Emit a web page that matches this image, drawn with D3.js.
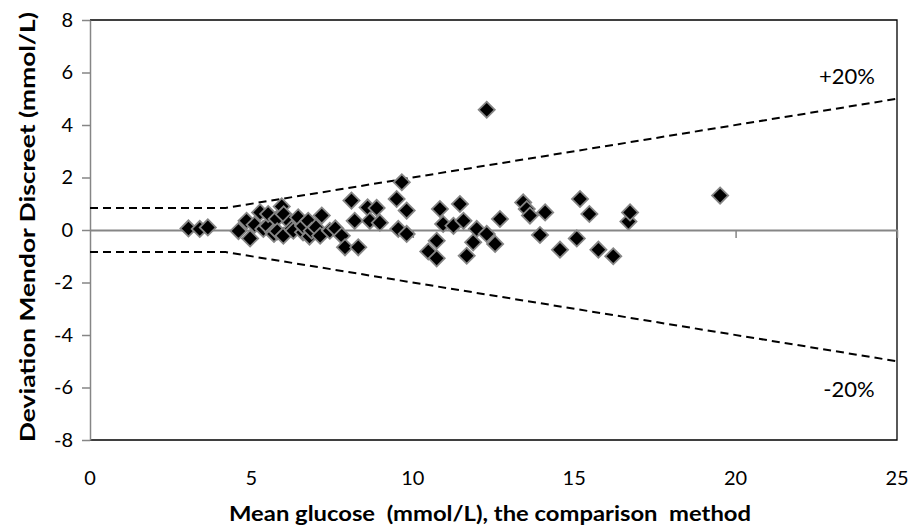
<!DOCTYPE html>
<html><head><meta charset="utf-8">
<script src="https://cdn.jsdelivr.net/npm/d3@7"></script>
<style>body{margin:0;background:#fff}svg{display:block}text{font-family:Lato,"Open Sans",sans-serif}</style>
</head><body><svg id="c" width="911" height="529"></svg>
<script>
// Mean glucose (mmol/L), comparison method
const meanGlucose = [3.05,3.4,3.65,4.6,4.85,4.96,5.1,5.27,5.37,5.5,5.52,5.68,5.7,5.78,5.8,5.94,5.99,6.0,6.2,6.25,6.3,6.45,6.6,6.6,6.76,6.8,6.87,7.0,7.13,7.18,7.43,7.6,7.8,7.9,8.1,8.2,8.31,8.6,8.67,8.88,8.98,
  9.5,9.66,9.81,9.55,9.81,10.48,10.74,10.74,10.84,10.94,11.26,11.46,11.57,11.67,11.87,11.98,12.29,12.29,12.55,12.7,13.42,13.53,13.63,13.94,14.1,14.56,15.08,15.18,15.47,15.75,16.21,16.68,16.73,19.52];
// Deviation Mendor Discreet (mmol/L)
const deviation = [0.06,0.04,0.1,-0.04,0.35,-0.32,0.2,0.67,0.04,0.15,0.61,-0.09,-0.15,0.42,-0.05,0.9,-0.22,0.6,0.29,0.05,-0.03,0.48,-0.09,0.15,0.35,-0.25,-0.03,0.1,-0.22,0.55,-0.03,0.06,-0.22,-0.66,1.12,0.35,-0.66,0.86,0.35,0.84,0.28,
  1.18,1.82,0.74,0.04,-0.15,-0.82,-1.08,-0.41,0.8,0.23,0.16,0.99,0.35,-0.98,-0.47,0.04,-0.15,4.58,-0.53,0.42,1.05,0.8,0.55,-0.19,0.67,-0.75,-0.32,1.18,0.61,-0.75,-1.0,0.32,0.67,1.31];
// ±20% limit lines (constant below 4.2 mmol/L)
const limitX = [0,4.2,25];
const upperLimit = [0.84,0.84,5];
const lowerLimit = [-0.84,-0.84,-5];
const xTicks = [0,5,10,15,20,25];
const yTicks = [-8,-6,-4,-2,0,2,4,6,8];

const svg = d3.select("#c");
const L=90,R=897,T=20,B=440;
const x = d3.scaleLinear().domain([0,25]).range([L,R]);
const y = d3.scaleLinear().domain([-8,8]).range([B,T]);
const gray="#868686";

svg.append("path").attr("d",`M${L},${T}H${R}V${B}H${L}`).attr("fill","none").attr("stroke","#000").attr("stroke-width",1.3);

const ya = svg.append("g").attr("transform",`translate(${L},0)`).call(d3.axisLeft(y).tickValues(yTicks).tickSize(8).tickSizeOuter(0).tickFormat(d=>d));
ya.select(".domain").attr("stroke",gray).attr("stroke-width",1.5);
ya.selectAll(".tick line").attr("stroke",gray).attr("stroke-width",1.5);
ya.selectAll("text").attr("font-size",20).attr("fill","#000").attr("x",-17).attr("font-family","Lato");

const xa = svg.append("g").attr("transform",`translate(0,${y(0)})`).call(d3.axisBottom(x).tickValues(xTicks.slice(1)).tickSize(8).tickSizeOuter(0).tickFormat(""));
xa.select(".domain").attr("stroke",gray).attr("stroke-width",2);
xa.selectAll(".tick line").attr("stroke",gray).attr("stroke-width",1.5);

svg.selectAll(".xl").data(xTicks).enter().append("text").attr("class","xl")
  .attr("x",d=>x(d)).attr("y",485).attr("text-anchor","middle").attr("font-size",20).text(d=>d);

const line = d3.line().x((d,i)=>x(limitX[i])).y(d=>y(d));
[upperLimit,lowerLimit].forEach(a=>{
  svg.append("path").attr("d",line(a)).attr("fill","none").attr("stroke","#000").attr("stroke-width",2).attr("stroke-dasharray","8,5");
});

const pts = meanGlucose.map((m,i)=>[m,deviation[i]]);
svg.selectAll(".pt").data(pts).enter().append("path").attr("class","pt")
  .attr("transform",d=>`translate(${x(d[0])},${y(d[1])}) rotate(45)`)
  .attr("d",d3.symbol().type(d3.symbolSquare).size(130))
  .attr("fill","#000").attr("stroke",gray).attr("stroke-width",1.8);

svg.append("text").attr("x",847).attr("y",84).attr("text-anchor","middle").attr("font-size",22).text("+20%");
svg.append("text").attr("x",849).attr("y",397).attr("text-anchor","middle").attr("font-size",22).text("-20%");

svg.append("text").attr("x",490).attr("y",521).attr("text-anchor","middle").attr("font-size",21).attr("font-weight","bold")
  .attr("textLength",522).attr("lengthAdjust","spacingAndGlyphs")
  .attr("xml:space","preserve").style("white-space","pre").text("Mean glucose  (mmol/L), the comparison  method");
svg.append("text").attr("transform","translate(35,227) rotate(-90)").attr("text-anchor","middle").attr("font-size",21).attr("font-weight","bold")
  .attr("textLength",430).attr("lengthAdjust","spacingAndGlyphs")
  .text("Deviation Mendor Discreet (mmol/L)");
</script></body></html>
